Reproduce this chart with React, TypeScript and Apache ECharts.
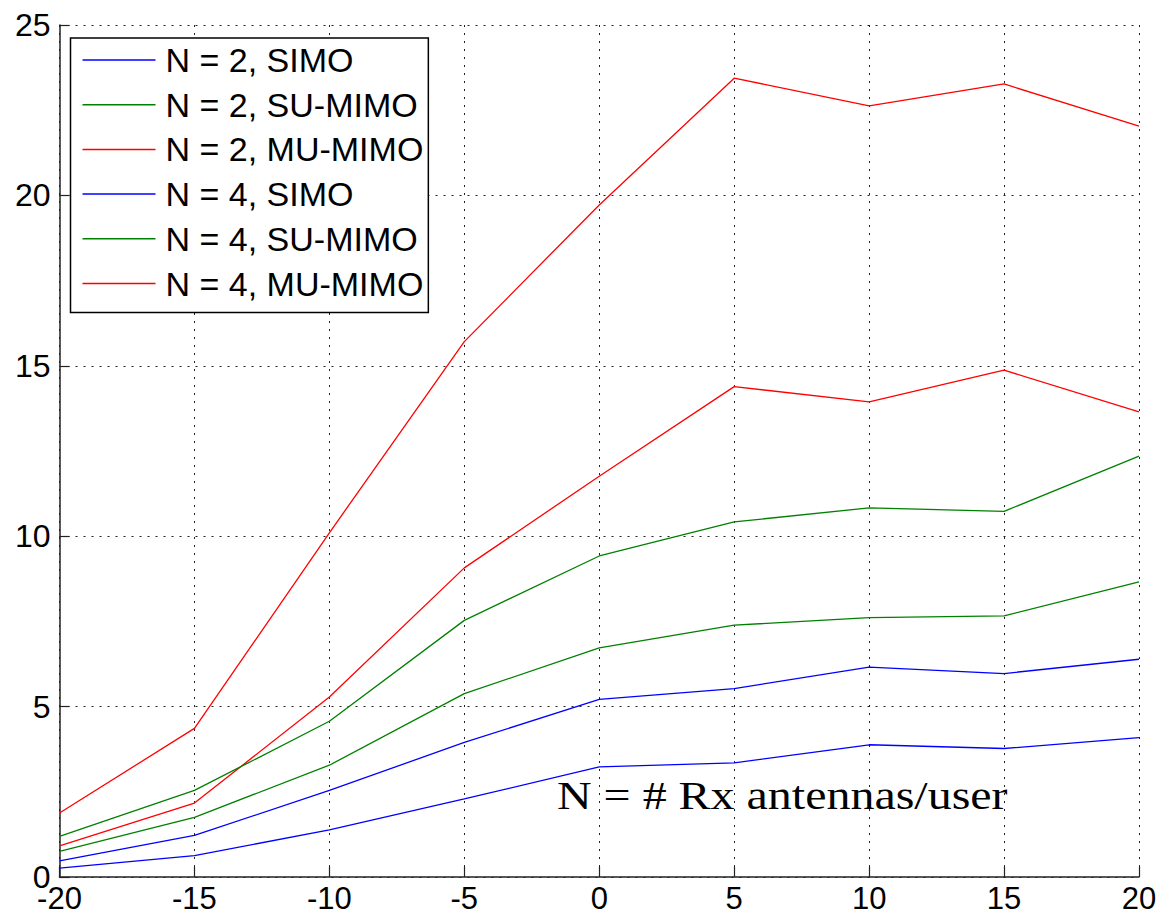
import React, { useEffect, useRef } from "react";
import * as echarts from "echarts";

const xValues = [-20, -15, -10, -5, 0, 5, 10, 15, 20];
const n2Simo = [0.26, 0.63, 1.38, 2.29, 3.23, 3.35, 3.88, 3.77, 4.09];
const n2SuMimo = [0.75, 1.75, 3.28, 5.38, 6.72, 7.39, 7.61, 7.66, 8.66];
const n2MuMimo = [0.91, 2.17, 5.28, 9.07, 11.76, 14.39, 13.94, 14.87, 13.65];
const n4Simo = [0.47, 1.22, 2.54, 3.95, 5.21, 5.53, 6.16, 5.97, 6.39];
const n4SuMimo = [1.19, 2.54, 4.57, 7.53, 9.42, 10.42, 10.83, 10.73, 12.35];
const n4MuMimo = [1.88, 4.36, 10.1, 15.71, 19.72, 23.44, 22.63, 23.27, 22.03];

const seriesNames = [
  "N = 2, SIMO",
  "N = 2, SU-MIMO",
  "N = 2, MU-MIMO",
  "N = 4, SIMO",
  "N = 4, SU-MIMO",
  "N = 4, MU-MIMO",
];
const seriesValues = [n2Simo, n2SuMimo, n2MuMimo, n4Simo, n4SuMimo, n4MuMimo];
const seriesColors = ["#0000ff", "#008000", "#ff0000", "#0000ff", "#008000", "#ff0000"];
const annotation = "N = # Rx antennas/user";

export default function App() {
  const ref = useRef<HTMLDivElement>(null);

  useEffect(() => {
    document.body.style.margin = "0";
    const chart = echarts.init(ref.current!, null, { renderer: "svg" });
    const gridLine = { show: true, lineStyle: { color: "#222", width: 1, type: [2, 6] as any } };
    chart.setOption({
      animation: false,
      backgroundColor: "#fff",
      grid: { left: 59.5, right: 21, top: 25, bottom: 38, containLabel: false },
      xAxis: {
        type: "value",
        min: -20,
        max: 20,
        interval: 5,
        axisLine: { show: true, onZero: false, lineStyle: { color: "#222", width: 1.5 } },
        axisTick: { show: true, inside: true, length: 10, lineStyle: { color: "#222", width: 1.2 } },
        axisLabel: { color: "#000", fontSize: 31, lineHeight: 22, fontFamily: "Liberation Sans", margin: 10 },
        splitLine: gridLine,
      },
      yAxis: {
        type: "value",
        min: 0,
        max: 25,
        interval: 5,
        axisLine: { show: true, onZero: false, lineStyle: { color: "#222", width: 1.5 } },
        axisTick: { show: true, inside: true, length: 10, lineStyle: { color: "#222", width: 1.2 } },
        axisLabel: { color: "#000", fontSize: 32, lineHeight: 18, fontFamily: "Liberation Sans", margin: 9 },
        splitLine: gridLine,
      },
      legend: {
        show: true,
        orient: "vertical",
        left: 70.5,
        top: 38,
        icon: "rect",
        itemWidth: 73,
        itemHeight: 1.5,
        itemGap: 10.7,
        padding: [5, 5, 12, 12],
        borderColor: "#000",
        borderWidth: 1.5,
        backgroundColor: "#fff",
        textStyle: { color: "#000", fontSize: 34, fontFamily: "Liberation Sans", padding: [0, 0, 0, 5] },
        data: seriesNames,
      },
      graphic: [
        {
          type: "text",
          x: 557,
          y: 796,
          scaleX: 1.23,
          z: 100,
          style: {
            text: annotation,
            fontSize: 39,
            fontFamily: "Liberation Serif",
            fill: "#000",
            align: "left",
            verticalAlign: "middle",
          },
        },
      ],
      series: seriesNames.map((name, i) => ({
        name,
        type: "line",
        symbol: "none",
        showSymbol: false,
        color: seriesColors[i],
        itemStyle: { color: seriesColors[i] },
        lineStyle: { color: seriesColors[i], width: 1.3 },
        data: xValues.map((x, j) => [x, seriesValues[i][j]]),
      })),
    });
    return () => chart.dispose();
  }, []);

  return <div ref={ref} style={{ width: 1160, height: 915 }} />;
}
